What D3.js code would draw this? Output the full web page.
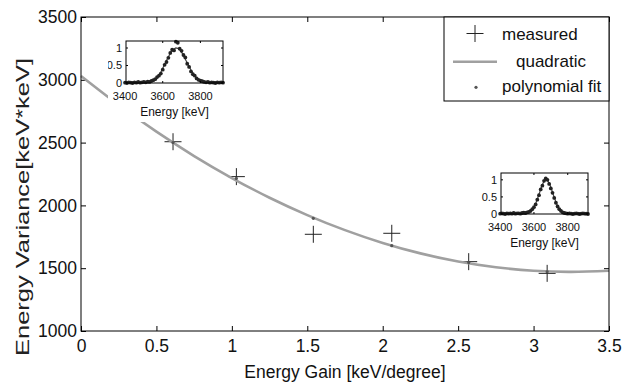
<!DOCTYPE html>
<html><head><meta charset="utf-8">
<script src="https://cdn.jsdelivr.net/npm/d3@7"></script>
<style>
html,body{margin:0;padding:0;background:#fff;}
svg{display:block;font-family:"Liberation Sans",Arial,sans-serif;}
</style></head>
<body>
<svg id="chart" width="627" height="384"></svg>
<script>
// ---- data ----
const measuredGain = [0.61, 1.03, 1.54, 2.06, 2.57, 3.09];
const measuredVar  = [2507, 2229, 1770, 1778, 1552, 1459];
const polyFitVar   = [2500, 2215, 1897, 1679, 1545, 1472];
const quadGain = [0, 0.25, 0.5, 0.75, 1.0, 1.25, 1.5, 1.75, 2.0, 2.25, 2.5, 2.75, 3.0, 3.25, 3.5];
const quadVar  = [3030, 2799, 2587, 2393, 2218, 2061, 1923, 1803, 1701, 1618, 1554, 1508, 1480, 1471, 1480];
const xTicks = [0, 0.5, 1, 1.5, 2, 2.5, 3, 3.5];
const xTickLabels = ["0", "0.5", "1", "1.5", "2", "2.5", "3", "3.5"];
const yTicks = [1000, 1500, 2000, 2500, 3000, 3500];
const yTickLabels = ["1000", "1500", "2000", "2500", "3000", "3500"];

// inset spectra (energy in keV, normalized counts)
const specEnergy = [3400,3410,3420,3430,3440,3450,3460,3470,3480,3490,3500,3510,3520,3530,3540,3550,3560,3570,3580,3590,3600,3610,3620,3630,3640,3650,3660,3670,3680,3690,3700,3710,3720,3730,3740,3750,3760,3770,3780,3790,3800,3810,3820,3830,3840,3850,3860,3870,3880,3890,3900,3910,3920];
const spec1Counts = [0.01,0.00,0.02,0.01,0.00,0.02,0.01,0.03,0.01,0.02,0.03,0.02,0.04,0.03,0.06,0.08,0.11,0.17,0.21,0.27,0.38,0.52,0.60,0.72,0.86,0.95,0.93,1.18,1.15,0.98,0.92,0.80,0.73,0.55,0.46,0.33,0.25,0.21,0.13,0.09,0.07,0.05,0.03,0.02,0.03,0.01,0.02,0.01,0.00,0.02,0.01,0.02,0.01];
const spec1Fit    = [0,0,0,0,0,0,0,0,0,0.001,0.002,0.004,0.008,0.015,0.03,0.055,0.09,0.14,0.22,0.31,0.42,0.53,0.64,0.75,0.84,0.92,0.97,1.0,0.99,0.95,0.88,0.79,0.68,0.57,0.47,0.37,0.28,0.205,0.145,0.10,0.067,0.043,0.027,0.016,0.009,0.005,0.003,0.001,0,0,0,0,0];
const spec2Counts = [0.01,0.02,0.01,0.00,0.02,0.01,0.02,0.01,0.03,0.01,0.02,0.02,0.01,0.03,0.04,0.03,0.05,0.06,0.09,0.14,0.20,0.28,0.42,0.55,0.72,0.83,0.97,1.04,1.00,0.88,0.75,0.62,0.47,0.33,0.22,0.14,0.09,0.05,0.03,0.02,0.01,0.02,0.01,0.00,0.01,0.02,0.01,0.00,0.01,0.02,0.01,0.01,0.00];
const spec2Fit    = [0,0,0,0,0,0,0,0,0,0,0,0,0.001,0.002,0.004,0.01,0.02,0.039,0.071,0.122,0.198,0.301,0.43,0.576,0.726,0.86,0.956,1.0,0.98,0.904,0.783,0.637,0.487,0.35,0.236,0.149,0.089,0.05,0.026,0.013,0.006,0.003,0.001,0,0,0,0,0,0,0,0,0,0];
const insetXTicks = [3400, 3600, 3800];
const insetYTicks = [0, 0.5, 1];

// ---- layout ----
const svg = d3.select("#chart");
const L = 81, R = 609, T = 17, B = 331;
const x = d3.scaleLinear().domain([0, 3.5]).range([L, R]);
const y = d3.scaleLinear().domain([1000, 3500]).range([B, T]);
const FONT = 17.5;
const FAM = "Liberation Sans, Arial, sans-serif";

// axes with inward ticks
const gx = svg.append("g").attr("transform", `translate(0,${B})`)
  .call(d3.axisBottom(x).tickValues(xTicks).tickSize(-5).tickPadding(9)
    .tickFormat((d, i) => xTickLabels[i]));
const gxTop = svg.append("g").attr("transform", `translate(0,${T})`)
  .call(d3.axisTop(x).tickValues(xTicks).tickSize(-5).tickFormat(""));
const gy = svg.append("g").attr("transform", `translate(${L},0)`)
  .call(d3.axisLeft(y).tickValues(yTicks).tickSize(-5).tickPadding(4)
    .tickFormat((d, i) => yTickLabels[i]));
const gyR = svg.append("g").attr("transform", `translate(${R},0)`)
  .call(d3.axisRight(y).tickValues(yTicks).tickSize(-5).tickFormat(""));
[gx, gxTop, gy, gyR].forEach(g => {
  g.select(".domain").remove();
  g.selectAll(".tick line").attr("stroke", "#000").attr("stroke-width", 1);
  g.selectAll(".tick text").attr("font-size", FONT).attr("fill", "#111")
    .attr("font-family", FAM);
});

// measured crosses
const cs = 8.5;
const crosses = svg.append("g").attr("stroke", "#222").attr("stroke-width", 1);
measuredGain.forEach((g, i) => {
  const cx = x(g), cy = y(measuredVar[i]);
  crosses.append("line").attr("x1", cx - cs).attr("x2", cx + cs).attr("y1", cy).attr("y2", cy);
  crosses.append("line").attr("x1", cx).attr("x2", cx).attr("y1", cy - cs).attr("y2", cy + cs);
});

// quadratic curve
const quadLine = d3.line().x((d, i) => x(quadGain[i])).y(d => y(d)).curve(d3.curveNatural);
svg.append("path").datum(quadVar).attr("d", quadLine)
  .attr("fill", "none").attr("stroke", "#a0a0a0").attr("stroke-width", 2.6);

// polynomial fit dots
svg.append("g").selectAll("circle").data(polyFitVar).join("circle")
  .attr("cx", (d, i) => x(measuredGain[i])).attr("cy", d => y(d)).attr("r", 1.6)
  .attr("fill", "#555");

// axis box
svg.append("rect").attr("x", L).attr("y", T).attr("width", R - L).attr("height", B - T)
  .attr("fill", "none").attr("stroke", "#000").attr("stroke-width", 1);

// axis labels
svg.append("text").attr("x", (L + R) / 2).attr("y", 378).attr("text-anchor", "middle")
  .attr("font-size", FONT).attr("fill", "#111").attr("font-family", FAM)
  .text("Energy Gain [keV/degree]");
svg.append("text").attr("transform", "translate(29,207) rotate(-90)").attr("text-anchor", "middle")
  .attr("font-size", 18.5).attr("fill", "#222").attr("font-family", FAM)
  .attr("textLength", 298).attr("lengthAdjust", "spacingAndGlyphs")
  .text("Energy Variance[keV*keV]");

// insets
function drawInset(box, counts, fit, cover) {
  const g = svg.append("g");
  if (cover) {
    const cid = "clip" + Math.round(box.l);
    svg.append("clipPath").attr("id", cid).append("rect")
      .attr("x", cover.x).attr("y", cover.y).attr("width", cover.w).attr("height", cover.h);
    g.attr("clip-path", `url(#${cid})`);
    g.append("rect").attr("x", cover.x).attr("y", cover.y).attr("width", cover.w).attr("height", cover.h)
      .attr("fill", "#fff");
  }
  const ix = d3.scaleLinear().domain([3405, 3920]).range([box.l, box.r]);
  const iy = d3.scaleLinear().domain([0, 1.2]).range([box.b, box.t]);
  g.append("path").datum(fit)
    .attr("d", d3.line().x((d, i) => ix(specEnergy[i])).y(d => iy(d)))
    .attr("fill", "none").attr("stroke", "#444").attr("stroke-width", 1.2);
  g.append("g").selectAll("circle").data(counts).join("circle")
    .attr("cx", (d, i) => ix(specEnergy[i])).attr("cy", d => iy(d)).attr("r", 1.9)
    .attr("fill", "#222");
  g.append("rect").attr("x", box.l).attr("y", box.t).attr("width", box.r - box.l).attr("height", box.b - box.t)
    .attr("fill", "none").attr("stroke", "#000").attr("stroke-width", 1);
  insetXTicks.forEach(v => {
    const px = ix(v);
    if (px > box.l + 1) {
      g.append("line").attr("x1", px).attr("x2", px).attr("y1", box.b).attr("y2", box.b - 2).attr("stroke", "#000");
      g.append("line").attr("x1", px).attr("x2", px).attr("y1", box.t).attr("y2", box.t + 2).attr("stroke", "#000");
    }
    g.append("text").attr("x", px).attr("y", box.b + 17).attr("text-anchor", "middle")
      .attr("font-size", 11).attr("fill", "#111").attr("font-family", FAM).text(v);
  });
  insetYTicks.forEach(v => {
    const py = iy(v);
    g.append("line").attr("x1", box.l).attr("x2", box.l + 2).attr("y1", py).attr("y2", py).attr("stroke", "#000");
    g.append("line").attr("x1", box.r).attr("x2", box.r - 2).attr("y1", py).attr("y2", py).attr("stroke", "#000");
    g.append("text").attr("x", box.l - 4).attr("y", py).attr("dy", "0.35em").attr("text-anchor", "end")
      .attr("font-size", 11).attr("fill", "#111").attr("font-family", FAM).text(v);
  });
  g.append("text").attr("x", (box.l + box.r) / 2).attr("y", box.b + 33).attr("text-anchor", "middle")
    .attr("font-size", 12).attr("fill", "#111").attr("font-family", FAM).text("Energy [keV]");
}
drawInset({l: 126, r: 223, t: 41, b: 83}, spec1Counts, spec1Fit, {x: 108, y: 36, w: 119, h: 86});
drawInset({l: 501, r: 588, t: 173, b: 214}, spec2Counts, spec2Fit, null);

// legend
const lg = svg.append("g");
lg.append("rect").attr("x", 444).attr("y", T).attr("width", R - 444).attr("height", 84)
  .attr("fill", "#fff").attr("stroke", "#000").attr("stroke-width", 1);
const lx = 475;
lg.append("line").attr("x1", lx - cs).attr("x2", lx + cs).attr("y1", 33.5).attr("y2", 33.5).attr("stroke", "#222");
lg.append("line").attr("x1", lx).attr("x2", lx).attr("y1", 33.5 - cs).attr("y2", 33.5 + cs).attr("stroke", "#222");
lg.append("line").attr("x1", 453).attr("x2", 497).attr("y1", 61.7).attr("y2", 61.7)
  .attr("stroke", "#a0a0a0").attr("stroke-width", 2.6);
lg.append("circle").attr("cx", 476).attr("cy", 87.3).attr("r", 1.6).attr("fill", "#555");
const legendNames = ["measured", "quadratic", "polynomial fit"];
const legendX = [502, 516, 502];
const legendY = [39.5, 67, 92];
legendNames.forEach((n, i) => {
  lg.append("text").attr("x", legendX[i]).attr("y", legendY[i]).attr("font-size", 17)
    .attr("fill", "#111").attr("font-family", FAM).text(n);
});
</script>
</body></html>
